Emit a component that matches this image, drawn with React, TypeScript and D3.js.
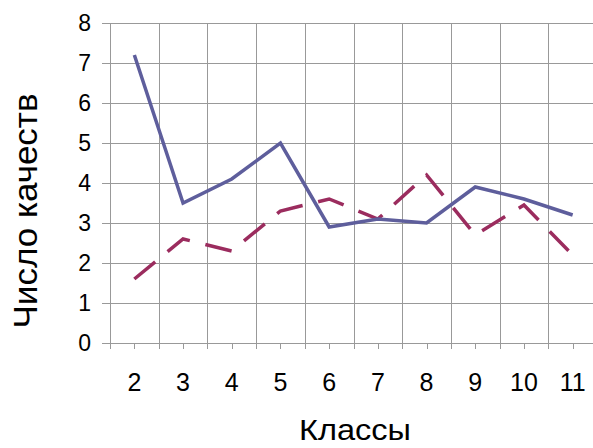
import { useEffect, useRef } from "react";
import * as d3 from "d3";

const classes = ["2", "3", "4", "5", "6", "7", "8", "9", "10", "11"];
const seriesSolid = [7.2, 3.5, 4.1, 5.0, 2.9, 3.1, 3.0, 3.9, 3.6, 3.2];
const seriesDashed = [1.6, 2.6, 2.3, 3.3, 3.6, 3.1, 4.2, 2.7, 3.45, 2.2];
const yTicks = [0, 1, 2, 3, 4, 5, 6, 7, 8];

const W = 593;
const H = 448;

export default function App() {
  const svgRef = useRef<SVGSVGElement | null>(null);

  useEffect(() => {
    const svg = d3.select(svgRef.current);
    svg.selectAll("*").remove();

    const left = 110;
    const right = 597;
    const top = 23;
    const bottom = 343;
    const font = "'Liberation Sans', Arial, sans-serif";

    const x = d3.scaleBand<string>().domain(classes).range([left, right]);
    const y = d3.scaleLinear().domain([0, 8]).range([bottom, top]);
    const cx = (c: string) => x(c)! + x.bandwidth() / 2;

    const grid = svg.append("g").attr("stroke", "#999").attr("stroke-width", 1).attr("shape-rendering", "crispEdges");

    // horizontal grid lines with tick stubs on the left
    grid.selectAll(".h")
      .data(yTicks)
      .join("line")
      .attr("x1", left - 8)
      .attr("x2", W)
      .attr("y1", (d) => Math.round(y(d)) + 0.5)
      .attr("y2", (d) => Math.round(y(d)) + 0.5);

    // vertical grid lines at band boundaries, running down as ticks
    grid.selectAll(".v")
      .data(classes)
      .join("line")
      .attr("x1", (d) => Math.round(x(d)!) + 0.5)
      .attr("x2", (d) => Math.round(x(d)!) + 0.5)
      .attr("y1", top)
      .attr("y2", bottom + 6);

    // small ticks at category centres
    grid.selectAll(".c")
      .data(classes)
      .join("line")
      .attr("x1", (d) => Math.round(cx(d)) + 0.5)
      .attr("x2", (d) => Math.round(cx(d)) + 0.5)
      .attr("y1", bottom)
      .attr("y2", bottom + 6);

    // y tick labels
    svg.append("g")
      .selectAll("text")
      .data(yTicks)
      .join("text")
      .attr("x", 91)
      .attr("y", (d) => y(d))
      .attr("dy", "0.36em")
      .attr("text-anchor", "end")
      .style("font-family", font)
      .style("font-size", "23px")
      .attr("fill", "#000")
      .text((d) => d);

    // x tick labels
    svg.append("g")
      .selectAll("text")
      .data(classes)
      .join("text")
      .attr("x", (d) => cx(d))
      .attr("y", 391)
      .attr("text-anchor", "middle")
      .style("font-family", font)
      .style("font-size", "25px")
      .attr("fill", "#000")
      .text((d) => d);

    const line = d3
      .line<number>()
      .x((_, i) => cx(classes[i]))
      .y((d) => y(d));

    svg.append("path")
      .datum(seriesDashed)
      .attr("d", line)
      .attr("fill", "none")
      .attr("stroke", "#9B2C5E")
      .attr("stroke-width", 3.5)
      .attr("stroke-dasharray", "27,16");

    svg.append("path")
      .datum(seriesSolid)
      .attr("d", line)
      .attr("fill", "none")
      .attr("stroke", "#5E5E9C")
      .attr("stroke-width", 3.5)
      .attr("stroke-linejoin", "miter");

    // axis titles
    svg.append("text")
      .attr("x", 355)
      .attr("y", 440)
      .attr("text-anchor", "middle")
      .attr("textLength", 112)
      .attr("lengthAdjust", "spacingAndGlyphs")
      .style("font-family", font)
      .style("font-size", "30px")
      .text("Классы");

    svg.append("text")
      .attr("transform", "translate(37,211) rotate(-90)")
      .attr("text-anchor", "middle")
      .attr("textLength", 235)
      .attr("lengthAdjust", "spacingAndGlyphs")
      .style("font-family", font)
      .style("font-size", "34px")
      .text("Число качеств");
  }, []);

  return (
    <svg
      ref={svgRef}
      width={W}
      height={H}
      style={{ position: "absolute", left: 0, top: 0, background: "#fff" }}
    />
  );
}
